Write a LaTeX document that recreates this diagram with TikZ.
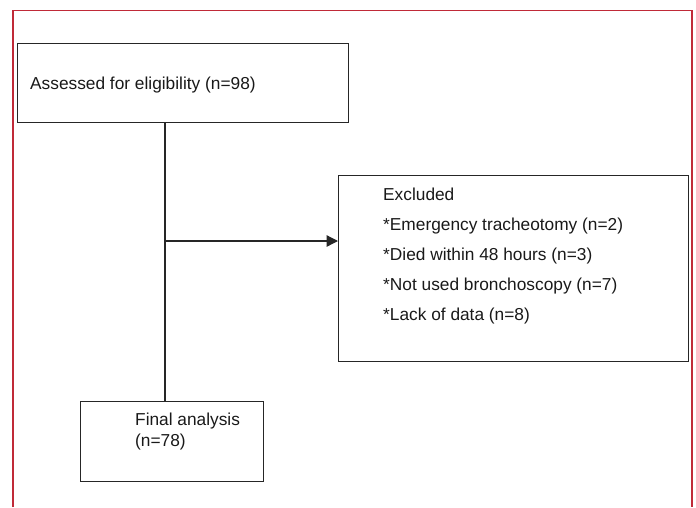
\documentclass[tikz,border=0pt]{standalone}
\usepackage{fontspec}
\setmainfont{Liberation Sans}
\usetikzlibrary{positioning,arrows.meta}
\definecolor{framered}{RGB}{192,42,56}
\tikzset{
  frame/.style={draw=framered, line width=1.3pt},
  box/.style={draw=black!85, line width=1.3pt, rectangle, inner sep=0pt, anchor=north west},
  line text/.style={font=\fontsize{17.3}{21}\selectfont, text=black!90, inner sep=0pt, anchor=base west},
  link/.style={draw=black!85, line width=1.3pt},
}
\begin{document}
\begin{tikzpicture}[x=1pt,y=-1pt]
    \useasboundingbox (0,0) rectangle (696,507);

    % Outer frame (open at the bottom)
    \draw[frame] (13,507) -- (13,10.5) -- (692,10.5) -- (692,507);

    % Boxes
    \node[box, minimum width=331pt, minimum height=78.5pt] (assessed) at (16.5,43) {};
    \node[box, minimum width=350pt, minimum height=186pt] (excluded) at (338,175) {};
    \node[box, minimum width=183pt, minimum height=80pt] (final) at (80,401) {};

    % Texts
    \node[line text] (assessedtxt) at (30,89.5) {Assessed for eligibility (n=98)};
    \foreach \t [count=\i] in {Excluded, *Emergency tracheotomy (n=2), *Died within 48 hours (n=3),
        *Not used bronchoscopy (n=7), *Lack of data (n=8)}
        \node[line text] (excl\i) at (383,{200+30*(\i-1)}) {\t};
    \node[line text] (finaltxt1) at (135,425.5) {Final analysis};
    \node[line text] (finaltxt2) at (135,446.5) {(n=78)};

    % Connectors
    \coordinate (branch) at (165,241);
    \draw[link] (branch |- assessed.south) -- (branch |- final.north);
    \draw[link, -{Triangle[length=11.5pt,width=11.5pt]}] (branch) -- (branch -| excluded.west);

\end{tikzpicture}
\end{document}
